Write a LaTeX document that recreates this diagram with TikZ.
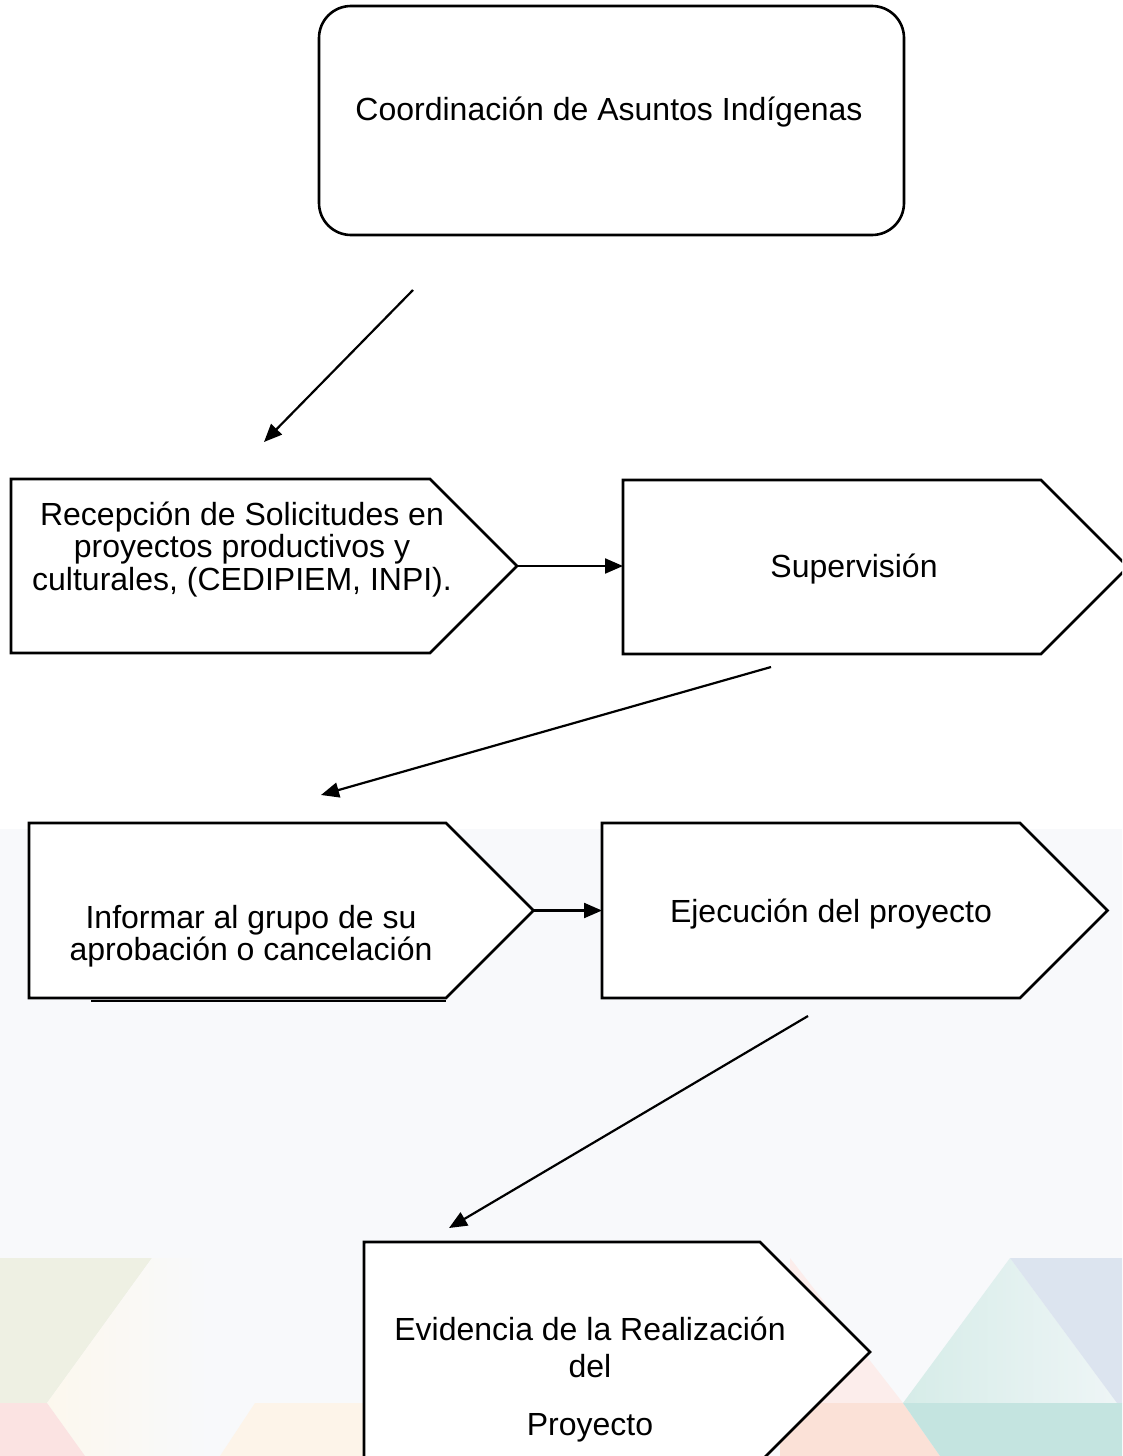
\documentclass[tikz,border=0pt]{standalone}
\usepackage{fontspec}
\setmainfont{Liberation Sans}
\usetikzlibrary{arrows.meta,calc}
\definecolor{bglow}{HTML}{F8F9FB}
\definecolor{lbeige}{HTML}{EEF0E3}
\definecolor{lcream}{HTML}{FCF8EE}
\definecolor{lpink}{HTML}{FBE3E2}
\definecolor{lpeach}{HTML}{FDF4E9}
\definecolor{rpink}{HTML}{FCEDEB}
\definecolor{rtealA}{HTML}{D6ECE8}
\definecolor{rtealB}{HTML}{EEF5F6}
\definecolor{rblue}{HTML}{DCE4EF}
\definecolor{rpeach}{HTML}{FBE1D7}
\definecolor{rteal}{HTML}{C4E4E0}
\tikzset{
  boxline/.style={draw=black, line width=2.6pt, fill=white, line join=miter},
  rectbox/.style={draw=none, inner sep=0pt, outer sep=0pt},
  txt/.style={font=\fontsize{32}{32.5}\selectfont, anchor=base, inner sep=0pt},
  arr/.style={line width=2.2pt, -{Triangle[length=18pt,width=15pt]}}
}
\begin{document}
\begin{tikzpicture}[x=1pt,y=-1pt]
\useasboundingbox (0,0) rectangle (1122,1456);
\clip (0,0) rectangle (1122,1456);
% background
\fill[white] (0,0) rectangle (1122,1456);
\fill[bglow] (0,829) rectangle (1122,1456);
% left decorative triangles
\fill[lbeige] (0,1258) -- (152,1258) -- (47,1403) -- (0,1403) -- cycle;
\shade[left color=lcream, right color=bglow] (152,1258) -- (47,1403) -- (85,1456) -- (210,1456) -- (210,1258) -- cycle;
\fill[lpink] (0,1403) -- (47,1403) -- (85,1456) -- (0,1456) -- cycle;
\fill[lpeach] (255,1403) -- (370,1403) -- (370,1456) -- (220,1456) -- cycle;
% right decorative triangles
\fill[rpink] (790,1258) -- (903,1403) -- (790,1403) -- cycle;
\shade[left color=rtealA, right color=rtealB] (1010,1258) -- (903,1403) -- (1117,1403) -- cycle;
\fill[rblue] (1010,1258) -- (1122,1258) -- (1122,1403) -- (1117,1403) -- cycle;
\fill[rpeach] (780,1403) -- (903,1403) -- (940,1456) -- (780,1456) -- cycle;
\fill[rteal] (903,1403) -- (1122,1403) -- (1122,1456) -- (940,1456) -- cycle;

% box 1
\node[draw, line width=2.6pt, rounded corners=32pt, fill=white, minimum width=585pt, minimum height=229pt, inner sep=0pt] (b1) at (611.5,120.5) {};
\node[txt] (t1) at (609,120) {Coordinación de Asuntos Indígenas};

% box 2
\node[rectbox, minimum width=419pt, minimum height=174pt] (b2) at (220.5,566) {};
\coordinate (b2tip) at ($(b2.east)+(87,0)$);
\draw[boxline] (b2.north west) -- (b2.north east) -- (b2tip) -- (b2.south east) -- (b2.south west) -- cycle;
\node[txt] (t2a) at (242,525) {Recepción de Solicitudes en};
\node[txt] (t2b) at (242,557.5) {proyectos productivos y};
\node[txt] (t2c) at (242,590) {culturales, (CEDIPIEM, INPI).};

% box 3
\node[rectbox, minimum width=418pt, minimum height=174pt] (b3) at (832,567) {};
\coordinate (b3tip) at ($(b3.east)+(87,0)$);
\draw[boxline] (b3.north west) -- (b3.north east) -- (b3tip) -- (b3.south east) -- (b3.south west) -- cycle;
\node[txt] (t3) at (854,577) {Supervisión};

% box 4
\node[rectbox, minimum width=417pt, minimum height=175pt] (b4) at (237.5,910.5) {};
\coordinate (b4tip) at ($(b4.east)+(87.5,0)$);
\draw[boxline] (b4.north west) -- (b4.north east) -- (b4tip) -- (b4.south east) -- (b4.south west) -- cycle;
\draw[line width=2pt] (91,1000.5) -- (446,1000.5);
\node[txt] (t4a) at (251,928) {Informar al grupo de su};
\node[txt] (t4b) at (251,960) {aprobación o cancelación};

% box 5
\node[rectbox, minimum width=418pt, minimum height=175pt] (b5) at (811,910.5) {};
\coordinate (b5tip) at ($(b5.east)+(87.5,0)$);
\draw[boxline] (b5.north west) -- (b5.north east) -- (b5tip) -- (b5.south east) -- (b5.south west) -- cycle;
\node[txt] (t5) at (831,922) {Ejecución del proyecto};

% box 6
\node[rectbox, minimum width=396pt, minimum height=220pt] (b6) at (562,1352) {};
\coordinate (b6tip) at ($(b6.east)+(110,0)$);
\draw[boxline] (b6.north west) -- (b6.north east) -- (b6tip) -- (b6.south east) -- (b6.south west) -- cycle;
\node[txt] (t6a) at (590,1340) {Evidencia de la Realización};
\node[txt] (t6b) at (590,1377) {del};
\node[txt] (t6c) at (590,1435) {Proyecto};

% connectors
\coordinate (a1s) at (413,290);
\coordinate (a1e) at (264,442);
\draw[arr] (a1s) -- (a1e);
\draw[arr] (b2tip) -- (b3.west |- b2tip);
\coordinate (a3s) at (771,667);
\coordinate (a3e) at (321,795);
\draw[arr] (a3s) -- (a3e);
\draw[arr] (b4tip) -- (b5.west |- b4tip);
\coordinate (a5s) at (808,1016);
\coordinate (a5e) at (449,1228);
\draw[arr] (a5s) -- (a5e);
\end{tikzpicture}
\end{document}
